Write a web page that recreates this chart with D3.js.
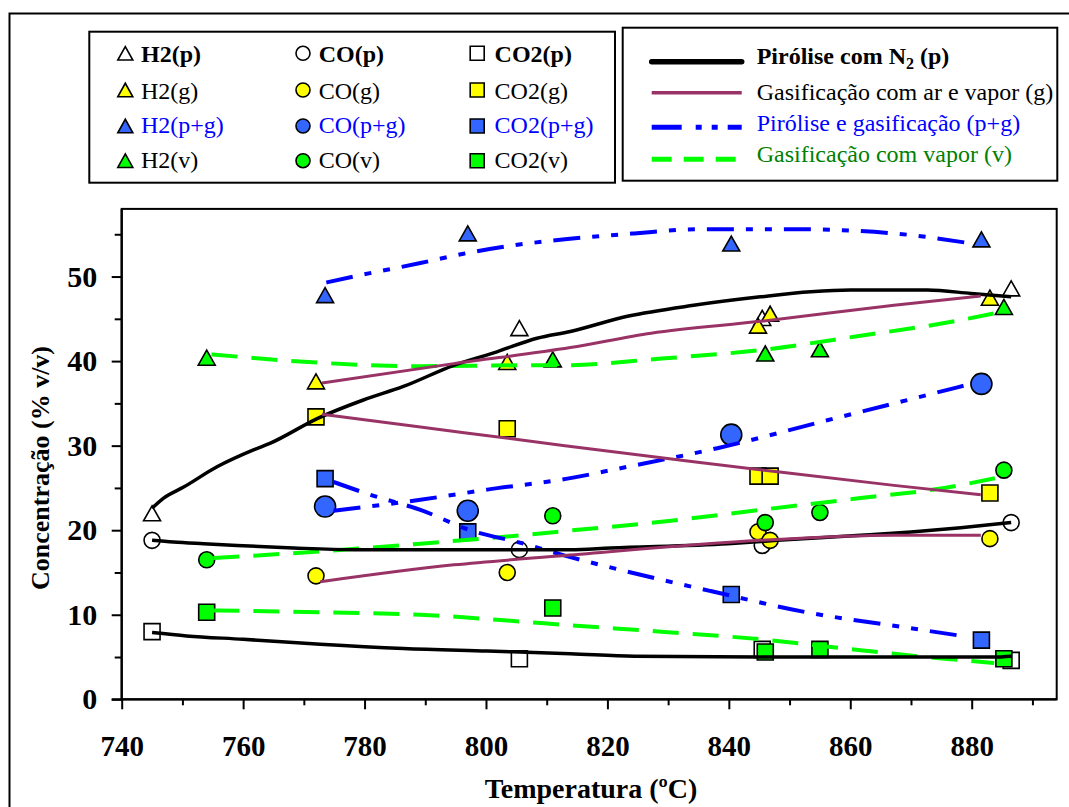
<!DOCTYPE html>
<html><head><meta charset="utf-8">
<script src="https://cdn.jsdelivr.net/npm/d3@7"></script>
<style>body{margin:0;background:#fff}svg{display:block}text{font-family:"Liberation Serif","Times New Roman",serif}</style>
</head><body><svg id="c" width="1069" height="807"></svg>
<script>
// ---- measured points (temperature ºC, concentration % v/v) ----
const tempP = [745, 805.5, 845.5, 886.5];
const h2P = [22.0, 43.9, 45.1, 48.6];
const coP = [18.8, 17.7, 18.2, 20.9];
const co2P = [8.0, 4.8, 5.9, 4.6];

const tempG = [772, 803.5, 844.8, 846.8, 883];
const h2G = [37.6, 39.9, 44.2, 45.6, 47.5];
const coG = [14.6, 15.0, 19.8, 18.8, 19.0];
const co2G = [33.4, 32.0, 26.4, 26.4, 24.4];

const tempPG = [773.5, 797, 840.4, 881.6];
const h2PG = [47.8, 55.1, 53.9, 54.4];
const coPG = [22.8, 22.3, 31.3, 37.3];
const co2PG = [26.1, 19.8, 12.4, 7.0];

const tempV = [754, 811, 846, 855, 885.3];
const h2V = [40.4, 40.2, 40.9, 41.4, 46.4];
const coV = [16.5, 21.7, 20.9, 22.1, 27.1];
const co2V = [10.3, 10.8, 5.6, 5.9, 4.8];

// ---- trend curves ----
const fitH2pT = [745, 746.9, 750.2, 755.7, 761.7, 764.5, 772.2, 779.8, 786.4, 794.7, 801.8, 808.4, 813.9, 823.3, 834.2, 845.2, 853.5, 860.1, 872.7, 879.9, 886.5];
const fitH2pV = [22.6, 23.8, 25.1, 27.5, 29.5, 30.3, 33.2, 35.4, 37.0, 39.5, 41.1, 42.7, 43.5, 45.3, 46.6, 47.6, 48.2, 48.4, 48.4, 48.0, 47.6];
const fitCOpT = [745, 748.5, 753.5, 759, 768.3, 778.2, 813.9, 820.5, 839.8, 848, 861.7, 870, 878.2, 886.5];
const fitCOpV = [18.8, 18.6, 18.4, 18.2, 17.9, 17.7, 17.7, 17.9, 18.4, 18.8, 19.4, 19.8, 20.3, 20.9];
const fitCO2pT = [745, 750.7, 760, 772.7, 786.4, 800.2, 813.9, 824.4, 845.2, 883.7, 886.5];
const fitCO2pV = [7.9, 7.5, 7.1, 6.5, 6.0, 5.7, 5.4, 5.1, 5.0, 5.0, 5.1];

const fitH2gT = [773, 794.7, 813.9, 827.2, 845.2, 867.2, 881.5];
const fitH2gV = [37.4, 39.7, 41.6, 43.3, 44.7, 46.6, 47.7];
const fitCOgT = [772.7, 794.7, 813, 845.2, 867.2, 881.5];
const fitCOgV = [13.9, 15.9, 17.0, 18.8, 19.4, 19.4];
const fitCO2gT = [773, 789.2, 813, 834.2, 848, 867.2, 881.5];
const fitCO2gV = [33.7, 32.2, 30.0, 28.1, 26.9, 25.3, 24.2];

const fitH2pgT = [773.7, 778.2, 789.2, 796.3, 804.6, 813, 824.4, 835.3, 850.7, 867.2, 878.2, 880];
const fitH2pgV = [49.3, 50.0, 51.6, 52.7, 53.7, 54.4, 55.1, 55.6, 55.6, 55.1, 54.1, 53.9];
const fitCOpgT = [774.9, 789.2, 800.2, 813.4, 823.3, 838.1, 856.2, 870, 879.3];
const fitCOpgV = [22.3, 23.6, 24.8, 26.1, 27.5, 29.7, 33.0, 35.5, 37.2];
const fitCO2pgT = [774.9, 780.9, 789.2, 797.4, 805.7, 813, 823.3, 837, 853.5, 867.2, 879.3];
const fitCO2pgV = [25.7, 24.2, 22.4, 20.0, 18.5, 17.0, 15.1, 12.8, 10.2, 8.7, 7.4];

const fitH2vT = [754.8, 772.7, 789.2, 805.7, 812.3, 828.9, 845.2, 861.7, 875.5, 884.8];
const fitH2vV = [40.8, 39.8, 39.4, 39.5, 39.5, 40.3, 41.3, 43.0, 44.5, 45.8];
const fitCOvT = [755.1, 772.7, 789.2, 805.7, 813, 828.9, 845.2, 861.7, 875.5, 884.8];
const fitCOvV = [16.7, 17.5, 18.4, 19.4, 19.9, 21.0, 22.4, 23.8, 25.0, 26.3];
const fitCO2vT = [755.1, 772.7, 789.2, 805.7, 813, 828.9, 845.2, 861.7, 875.5, 883.7];
const fitCO2vV = [10.5, 10.3, 10.0, 9.2, 8.8, 8.0, 7.1, 5.8, 4.8, 4.3];

// ---- axis ticks and labels ----
const xTicks = [740, 760, 780, 800, 820, 840, 860, 880];
const xMinor = [750, 770, 790, 810, 830, 850, 870, 890];
const yTicks = [0, 10, 20, 30, 40, 50];
const yMinor = [5, 15, 25, 35, 45, 55];
const xTitle = "Temperatura (ºC)";
const yTitle = "Concentração (% v/v)";

const legendRows = [
  {labels: ["H2(p)", "CO(p)", "CO2(p)"], fill: "#FFFFFF", color: "#000000", bold: true},
  {labels: ["H2(g)", "CO(g)", "CO2(g)"], fill: "#FFFF00", color: "#000000", bold: false},
  {labels: ["H2(p+g)", "CO(p+g)", "CO2(p+g)"], fill: "#3366FF", color: "#0000FF", bold: false},
  {labels: ["H2(v)", "CO(v)", "CO2(v)"], fill: "#00FF00", color: "#000000", bold: false}
];
const lineLegend = [
  {label: "Pirólise com N", sub: "2", tail: " (p)", key: "p", color: "#000000", bold: true},
  {label: "Gasificação com ar e vapor (g)", key: "g", color: "#000000"},
  {label: "Pirólise e gasificação (p+g)", key: "pg", color: "#0000FF"},
  {label: "Gasificação com vapor (v)", key: "v", color: "#008000"}
];

// ---- styles ----
const lineStyle = {
  p:  {stroke: "#000000", width: 3.5, dash: null, lw: 5.5, ldash: null},
  g:  {stroke: "#993366", width: 3, dash: null, lw: 3.5, ldash: null},
  pg: {stroke: "#0000FF", width: 4, dash: "27,12,7,12,7,12", lw: 5, ldash: "30,14,6,10,6,10"},
  v:  {stroke: "#00FF00", width: 4, dash: "26,14", lw: 5, ldash: "20,12"}
};

const svg = d3.select("#c");
svg.append("rect").attr("width", 1069).attr("height", 807).attr("fill", "#fff");
svg.append("rect").attr("x", 9.5).attr("y", 13.5).attr("width", 1120).attr("height", 900)
  .attr("fill", "none").attr("stroke", "#000").attr("stroke-width", 2);

const x = d3.scaleLinear().domain([740, 894]).range([121.7, 1056.7]);
const y = d3.scaleLinear().domain([0, 58]).range([699.3, 208.9]);

// plot box
svg.append("rect").attr("x", 121.7).attr("y", 208.9).attr("width", 1056.7 - 121.7).attr("height", 699.3 - 208.9)
  .attr("fill", "#fff").attr("stroke", "#000").attr("stroke-width", 2);

// axes
function styleAxis(g) { g.select(".domain").remove(); g.selectAll(".tick line").attr("stroke", "#000").attr("stroke-width", 2); }
const gx = svg.append("g").attr("transform", "translate(0,699.3)")
  .call(d3.axisBottom(x).tickValues(xTicks).tickSize(10).tickPadding(25.7).tickFormat(d3.format("d")));
styleAxis(gx);
gx.selectAll("text").attr("font-size", 29).attr("font-weight", "bold").attr("fill", "#000")
  .style("font-family", '"Liberation Serif","Times New Roman",serif');
const gxm = svg.append("g").attr("transform", "translate(0,699.3)")
  .call(d3.axisBottom(x).tickValues(xMinor).tickSize(6).tickFormat(""));
styleAxis(gxm);
const gy = svg.append("g").attr("transform", "translate(121.7,0)")
  .call(d3.axisLeft(y).tickValues(yTicks).tickSize(10).tickPadding(14.5).tickFormat(d3.format("d")));
styleAxis(gy);
gy.selectAll("text").attr("font-size", 30).attr("font-weight", "bold").attr("fill", "#000")
  .style("font-family", '"Liberation Serif","Times New Roman",serif');
const gym = svg.append("g").attr("transform", "translate(121.7,0)")
  .call(d3.axisLeft(y).tickValues(yMinor).tickSize(7).tickFormat(""));
styleAxis(gym);
svg.append("line").attr("x1", 121.7).attr("x2", 121.7).attr("y1", 208.9).attr("y2", 699.3).attr("stroke", "#000").attr("stroke-width", 2.2);
svg.append("line").attr("x1", 111.7).attr("x2", 1056.7).attr("y1", 699.3).attr("y2", 699.3).attr("stroke", "#000").attr("stroke-width", 2.2);

svg.append("text").attr("x", 591).attr("y", 798).attr("text-anchor", "middle")
  .attr("font-size", 28).attr("font-weight", "bold").text(xTitle);
svg.append("text").attr("transform", "translate(49,468) rotate(-90)").attr("text-anchor", "middle")
  .attr("font-size", 26).attr("font-weight", "bold").text(yTitle);

// marker shapes
function triPath(w, h) { return `M0,${-h/2}L${w/2},${h/2}L${-w/2},${h/2}Z`; }
function sqPath(s) { return `M${-s/2},${-s/2}h${s}v${s}h${-s}Z`; }
function circPath(r) { return d3.symbol(d3.symbolCircle, Math.PI * r * r)(); }

const markerSets = [
  {t: tempP, vals: [h2P, coP, co2P], fill: "#FFFFFF", cr: 8},
  {t: tempG, vals: [h2G, coG, co2G], fill: "#FFFF00", cr: 8},
  {t: tempPG, vals: [h2PG, coPG, co2PG], fill: "#3366FF", cr: 10.5},
  {t: tempV, vals: [h2V, coV, co2V], fill: "#00FF00", cr: 8}
];
const gm = svg.append("g");
markerSets.forEach(ms => {
  const shapes = [triPath(17, 15), circPath(ms.cr), sqPath(16)];
  ms.vals.forEach((vals, k) => {
    gm.selectAll(null).data(ms.t.map((t, i) => [t, vals[i]])).join("path")
      .attr("d", shapes[k])
      .attr("transform", d => `translate(${x(d[0])},${y(d[1])})`)
      .attr("fill", ms.fill).attr("stroke", "#000").attr("stroke-width", 1.6);
  });
});

// curves
const curves = [
  ["v", fitH2vT, fitH2vV], ["v", fitCOvT, fitCOvV], ["v", fitCO2vT, fitCO2vV],
  ["pg", fitH2pgT, fitH2pgV], ["pg", fitCOpgT, fitCOpgV], ["pg", fitCO2pgT, fitCO2pgV],
  ["p", fitH2pT, fitH2pV], ["p", fitCOpT, fitCOpV], ["p", fitCO2pT, fitCO2pV],
  ["g", fitH2gT, fitH2gV], ["g", fitCOgT, fitCOgV], ["g", fitCO2gT, fitCO2gV]
];
const line = d3.line().x(d => x(d[0])).y(d => y(d[1])).curve(d3.curveMonotoneX);
curves.forEach(([key, ts, vs]) => {
  const st = lineStyle[key];
  svg.append("path").datum(ts.map((t, i) => [t, vs[i]]))
    .attr("d", line).attr("fill", "none").attr("stroke", st.stroke)
    .attr("stroke-width", st.width).attr("stroke-dasharray", st.dash)
    .attr("stroke-linejoin", "round");
});

// legend: markers
svg.append("rect").attr("x", 89.3).attr("y", 31.7).attr("width", 615 - 89.3).attr("height", 182.7 - 31.7)
  .attr("fill", "#fff").attr("stroke", "#000").attr("stroke-width", 2);
const colMarkX = [125.3, 303, 477.2];
const colTextX = [141, 318.7, 494.6];
const rowMarkY = [53.3, 90, 126, 160.7];
const rowTextY = [61.7, 99.3, 133.3, 168.3];
const legShapes = [triPath(15, 13.5), circPath(7), sqPath(14)];
legendRows.forEach((row, r) => {
  row.labels.forEach((lab, c) => {
    svg.append("path").attr("d", legShapes[c]).attr("transform", `translate(${colMarkX[c]},${rowMarkY[r]})`)
      .attr("fill", row.fill).attr("stroke", "#000").attr("stroke-width", 1.6);
    svg.append("text").attr("x", colTextX[c]).attr("y", rowTextY[r]).attr("font-size", 24)
      .attr("font-weight", row.bold ? "bold" : "normal").attr("fill", row.color).text(lab);
  });
});

// legend: lines
svg.append("rect").attr("x", 622.7).attr("y", 27.7).attr("width", 1057.3 - 622.7).attr("height", 180.7 - 27.7)
  .attr("fill", "#fff").attr("stroke", "#000").attr("stroke-width", 2);
const lineLegY = [61.7, 92.7, 127.3, 159.3];
const lineTxtY = [64, 100, 130.5, 162];
lineLegend.forEach((it, i) => {
  const st = lineStyle[it.key];
  svg.append("line").attr("x1", 651.7).attr("x2", 741.7).attr("y1", lineLegY[i]).attr("y2", lineLegY[i])
    .attr("stroke", st.stroke).attr("stroke-width", st.lw).attr("stroke-dasharray", st.ldash)
    .attr("stroke-linecap", it.key === "p" ? "round" : "butt");
  const t = svg.append("text").attr("x", 756.7).attr("y", lineTxtY[i]).attr("font-size", 24)
    .attr("font-weight", it.bold ? "bold" : "normal").attr("fill", it.color);
  t.append("tspan").text(it.label);
  if (it.sub) {
    t.append("tspan").attr("font-size", 16).attr("dy", 5).text(it.sub);
    t.append("tspan").attr("dy", -5).text(it.tail);
  }
});
</script></body></html>
